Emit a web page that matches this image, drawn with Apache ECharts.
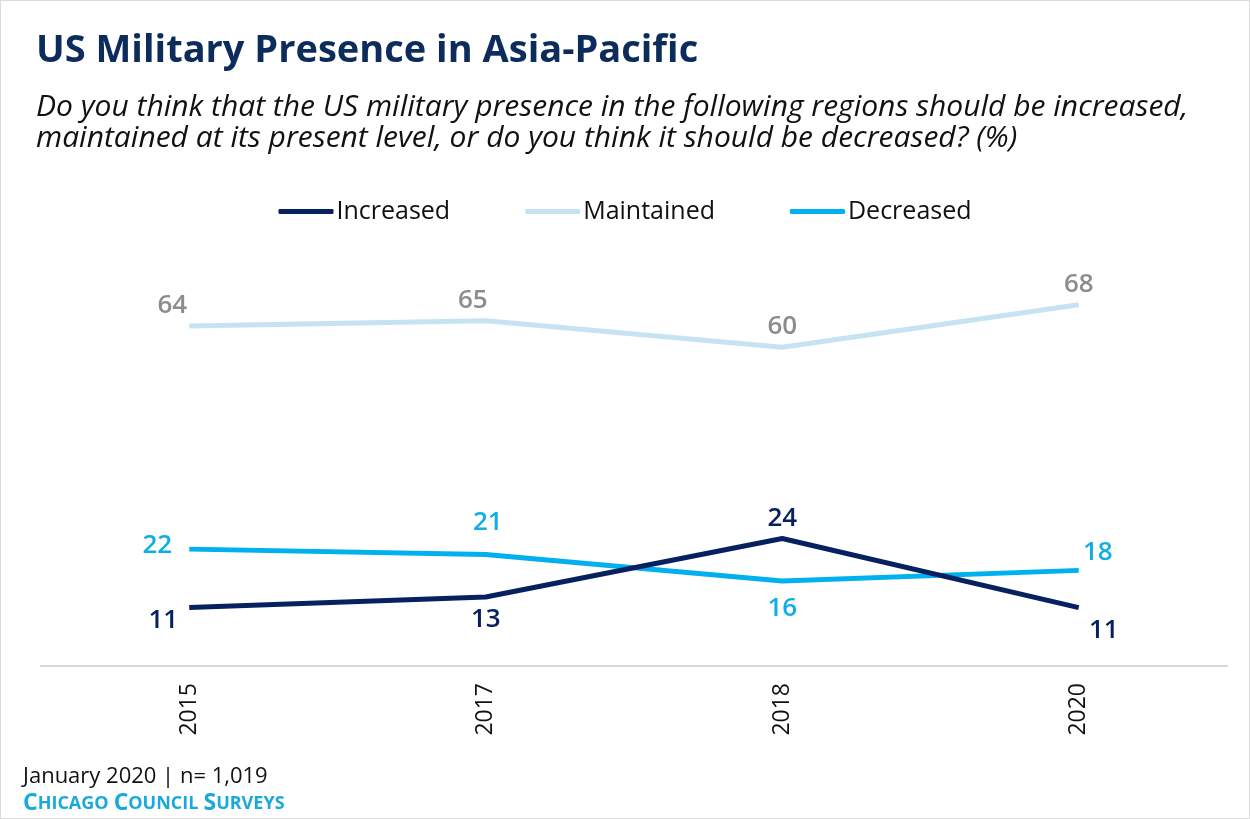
<!DOCTYPE html>
<html>
<head>
<meta charset="utf-8">
<script src="https://cdn.jsdelivr.net/npm/echarts@6/dist/echarts.min.js"></script>
<style>
  html, body { margin: 0; padding: 0; background: #fff; }
  #chart { width: 1248px; height: 817px; border: 1px solid #dcdcdc; }
</style>
</head>
<body>
<div id="chart"></div>
<script>
const years = ['2015', '2017', '2018', '2020'];
const increased = [11, 13, 24, 11];
const maintained = [64, 65, 60, 68];
const decreased = [22, 21, 16, 18];

// label placement per point: [offsetX, offsetY]
const incOffsets = [[-26, 13], [0, 23], [0, -20], [25, 23]];
const maiOffsets = [[-17, -20], [-13, -20], [0, -21], [0, -20]];
const decOffsets = [[-32, -4], [2, -32], [0, 28], [19, -18]];

const fontFam = '"Open Sans", sans-serif';

function withLabels(values, offsets, color) {
  return values.map((v, i) => ({
    value: v,
    label: {
      show: true,
      position: 'inside',
      offset: offsets[i],
      color: color,
      fontSize: 26,
      fontWeight: 600,
      fontFamily: fontFam
    }
  }));
}

const chart = echarts.init(document.getElementById('chart'));
chart.setOption({
  animation: false,
  title: [
    {
      text: 'US Military Presence in Asia-Pacific',
      left: 30, top: 26,
      textStyle: { color: '#0c2c5c', fontSize: 38, fontWeight: 'bold', fontFamily: fontFam }
    },
    {
      text: 'Do you think that the US military presence in the following regions should be increased,\nmaintained at its present level, or do you think it should be decreased? (%)',
      left: 30, top: 86,
      textStyle: { color: '#111', fontSize: 30, fontStyle: 'italic', fontWeight: 'normal', lineHeight: 31, fontFamily: fontFam }
    },
    {
      text: 'January 2020 | n= 1,019',
      left: 17, top: 760,
      textStyle: { color: '#111', fontSize: 22, fontWeight: 'normal', fontFamily: fontFam }
    },
    {
      text: '{b|C}{s|HICAGO} {b|C}{s|OUNCIL} {b|S}{s|URVEYS}',
      left: 17, top: 786,
      textStyle: {
        rich: {
          b: { color: '#1aa9dc', fontSize: 23, fontFamily: fontFam },
          s: { color: '#1aa9dc', fontSize: 18, fontFamily: fontFam }
        }
      }
    }
  ],
  legend: {
    top: 193,
    left: 'center',
    itemWidth: 55,
    itemHeight: 5,
    itemGap: 75,
    icon: 'roundRect',
    textStyle: { color: '#111', fontSize: 25, fontFamily: fontFam, padding: [0, 0, 0, -2] },
    data: ['Increased', 'Maintained', 'Decreased']
  },
  grid: { left: 40, right: 22, top: 240, bottom: 152 },
  xAxis: {
    type: 'category',
    data: years,
    boundaryGap: true,
    axisLine: { lineStyle: { color: '#d6d6d6', width: 2 } },
    axisTick: { show: false },
    axisLabel: { rotate: 90, color: '#111', fontSize: 23, margin: 17, fontFamily: fontFam }
  },
  yAxis: {
    type: 'value',
    min: 0, max: 80,
    show: false,
    splitLine: { show: false }
  },
  series: [
    {
      name: 'Increased', type: 'line', symbol: 'circle', symbolSize: 0.1, showSymbol: true,
      lineStyle: { width: 5, color: '#072160' }, itemStyle: { color: '#072160' },
      data: withLabels(increased, incOffsets, '#072160'), z: 3
    },
    {
      name: 'Maintained', type: 'line', symbol: 'circle', symbolSize: 0.1, showSymbol: true,
      lineStyle: { width: 5, color: '#c6e3f4' }, itemStyle: { color: '#c6e3f4' },
      data: withLabels(maintained, maiOffsets, '#8c8c8c'), z: 2
    },
    {
      name: 'Decreased', type: 'line', symbol: 'circle', symbolSize: 0.1, showSymbol: true,
      lineStyle: { width: 5, color: '#00b0ef' }, itemStyle: { color: '#00b0ef' },
      data: withLabels(decreased, decOffsets, '#10aee4'), z: 2
    }
  ]
});
</script>
</body>
</html>
